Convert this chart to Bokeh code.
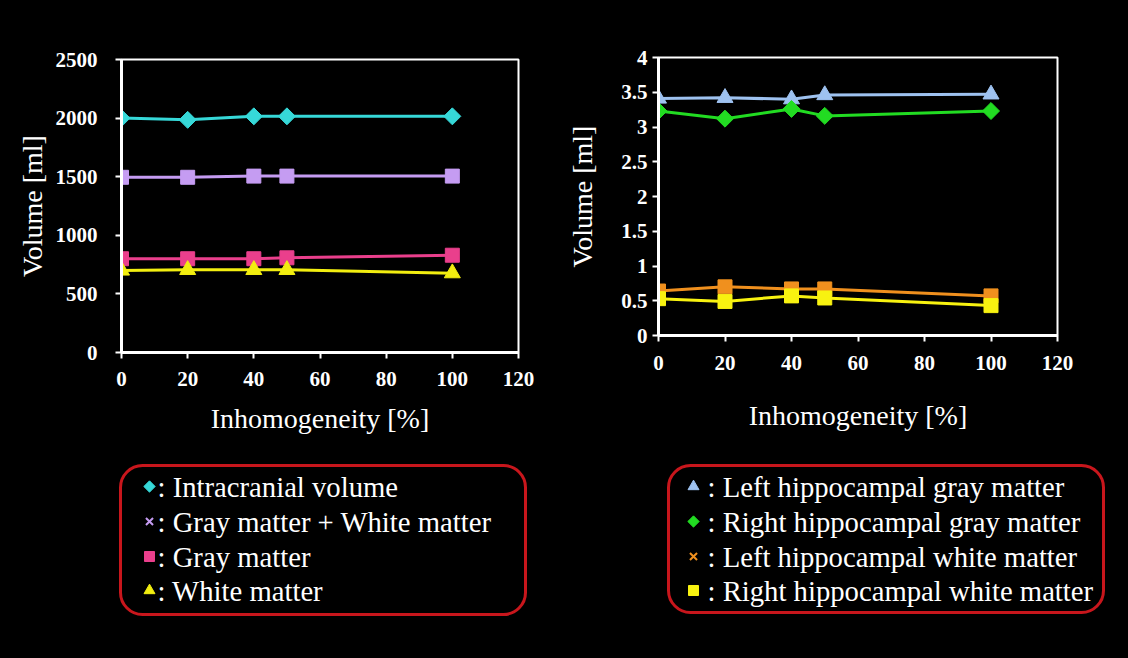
import math
from bokeh.plotting import figure
from bokeh.models import (Range1d, FixedTicker, CustomJSTickFormatter, BoxAnnotation,
                          GlobalInlineStyleSheet)
from bokeh.layouts import row, column
from bokeh.core.properties import value
from bokeh.embed import file_html
from bokeh.resources import INLINE

# ---------------- data ----------------
inhomogeneity = [0, 20, 40, 50, 100]

intracranial_volume = [2000, 1985, 2015, 2015, 2015]
gray_plus_white = [1495, 1495, 1505, 1505, 1505]
gray_matter = [800, 800, 800, 808, 830]
white_matter = [700, 705, 705, 705, 677]

left_hip_gray = [3.41, 3.42, 3.40, 3.46, 3.47]
right_hip_gray = [3.23, 3.12, 3.26, 3.16, 3.23]
left_hip_white = [0.64, 0.70, 0.67, 0.67, 0.57]
right_hip_white = [0.53, 0.49, 0.57, 0.54, 0.43]

left_names = ["Intracranial volume", "Gray matter + White matter", "Gray matter", "White matter"]
right_names = ["Left hippocampal gray matter", "Right hippocampal gray matter",
               "Left hippocampal white matter", "Right hippocampal white matter"]

x_ticks = [0, 20, 40, 60, 80, 100, 120]
left_y_ticks = [0, 500, 1000, 1500, 2000, 2500]
right_y_ticks = [0, 0.5, 1, 1.5, 2, 2.5, 3, 3.5, 4]

x_label = "Inhomogeneity [%]"
y_label = "Volume [ml]"

# ---------------- styles ----------------
SERIF = "Liberation Serif"
left_series = [intracranial_volume, gray_plus_white, gray_matter, white_matter]
left_colors = ["#36D8D8", "#C59CF2", "#EA3F8C", "#F2EE10"]
left_plot_markers = ["diamond", "square", "square", "triangle"]
left_legend_markers = ["diamond", "x", "square", "triangle"]

right_series = [left_hip_gray, right_hip_gray, left_hip_white, right_hip_white]
right_colors = ["#9EC2F0", "#22DC22", "#F0901E", "#F8F210"]
right_plot_markers = ["triangle", "diamond", "square", "square"]
right_legend_markers = ["triangle", "diamond", "x", "square"]

plot_marker_sizes = {"diamond": 12, "square": 14, "triangle": 16}
legend_marker_sizes = {"diamond": 8, "square": 10, "triangle": 11, "x": 10}


def add_marker(p, xs, ys, m, size, c):
    if m == "diamond":
        p.scatter(xs, ys, marker="square", angle=math.pi / 4, size=size,
                  fill_color=c, line_color=c)
    elif m == "x":
        p.scatter(xs, ys, marker="x", size=size, line_color=c, line_width=2)
    else:
        p.scatter(xs, ys, marker=m, size=size, fill_color=c, line_color=c)


def make_chart(width, height, mbl, mbr, mbt, mbb, y_end, y_ticks, series, colors, markers,
               ytick_standoff, xtick_standoff, xlabel_standoff, ylabel_standoff):
    p = figure(width=width, height=height, x_range=Range1d(0, 120), y_range=Range1d(0, y_end),
               output_backend="svg", toolbar_location=None,
               min_border_left=mbl, min_border_right=mbr, min_border_top=mbt, min_border_bottom=mbb)
    p.background_fill_color = "black"
    p.border_fill_color = "black"
    p.outline_line_color = "white"
    p.outline_line_width = 2
    p.grid.visible = False
    p.xaxis.ticker = FixedTicker(ticks=x_ticks)
    p.yaxis.ticker = FixedTicker(ticks=y_ticks)
    p.yaxis.formatter = CustomJSTickFormatter(code="return String(tick);")
    for ax in (p.xaxis, p.yaxis):
        ax.axis_line_color = "white"
        ax.axis_line_width = 3
        ax.major_tick_line_color = "white"
        ax.major_tick_line_width = 2
        ax.major_tick_out = 6
        ax.major_tick_in = 0
        ax.minor_tick_line_color = None
        ax.major_label_text_color = "white"
        ax.major_label_text_font = SERIF
        ax.major_label_text_font_style = "bold"
        ax.major_label_text_font_size = "21px"
        ax.axis_label_text_color = "white"
        ax.axis_label_text_font = SERIF
        ax.axis_label_text_font_style = "normal"
        ax.axis_label_text_font_size = "28px"
    p.xaxis.major_label_standoff = xtick_standoff
    p.yaxis.major_label_standoff = ytick_standoff
    p.xaxis.axis_label = x_label
    p.yaxis.axis_label = y_label
    p.xaxis.axis_label_standoff = xlabel_standoff
    p.yaxis.axis_label_standoff = ylabel_standoff
    for ys, c, m in zip(series, colors, markers):
        p.line(inhomogeneity, ys, line_color=c, line_width=3)
        add_marker(p, inhomogeneity, ys, m, plot_marker_sizes[m], c)
    return p


TOP_H = 452
TOTAL_W = 1128
TOTAL_H = 658
LEFT_W = 545
RIGHT_W = TOTAL_W - LEFT_W

left_chart = make_chart(LEFT_W, TOP_H, 121, LEFT_W - 518, 59, TOP_H - 352, 2500, left_y_ticks,
                        left_series, left_colors, left_plot_markers,
                        ytick_standoff=18, xtick_standoff=13, xlabel_standoff=14, ylabel_standoff=5)
right_chart = make_chart(RIGHT_W, TOP_H, 658 - LEFT_W, TOTAL_W - 1057, 57, TOP_H - 335, 4,
                         right_y_ticks, right_series, right_colors, right_plot_markers,
                         ytick_standoff=5, xtick_standoff=14, xlabel_standoff=27, ylabel_standoff=20)

# ---------------- legends (one strip below both charts) ----------------
BOT_H = TOTAL_H - TOP_H
leg = figure(width=TOTAL_W, height=BOT_H, x_range=Range1d(0, TOTAL_W),
             y_range=Range1d(TOTAL_H, TOP_H), x_axis_type=None, y_axis_type=None,
             output_backend="svg", toolbar_location=None,
             min_border=0, min_border_left=0, min_border_right=0,
             min_border_top=0, min_border_bottom=0)
leg.background_fill_color = "black"
leg.border_fill_color = "black"
leg.outline_line_color = None
leg.grid.visible = False

legend_specs = [
    dict(box=(120, 525, 465, 614), mx=149, tx=157, ys=[486, 521, 556, 590],
         names=left_names, colors=left_colors, markers=left_legend_markers),
    dict(box=(668, 1103, 465, 612), mx=693, tx=707, ys=[486, 521, 556, 590],
         names=right_names, colors=right_colors, markers=right_legend_markers),
]
for spec in legend_specs:
    l, r, t, b = spec["box"]
    leg.add_layout(BoxAnnotation(left=l, right=r, top=t, bottom=b,
                                 fill_color=None, fill_alpha=0,
                                 line_color="#C8161C", line_alpha=1.0, line_width=3,
                                 border_radius=22))
    for yy, c, m in zip(spec["ys"], spec["colors"], spec["markers"]):
        add_marker(leg, [spec["mx"]], [yy], m, legend_marker_sizes[m], c)
    leg.text(x=[spec["tx"]] * len(spec["names"]), y=spec["ys"],
             text=[": " + n for n in spec["names"]],
             text_color="white", text_font=value(SERIF), text_font_size="28.7px",
             text_baseline="middle", text_align="left")

layout = column(row(column(left_chart), column(right_chart)), leg,
                stylesheets=[GlobalInlineStyleSheet(css="body { background-color: black; }")])

open("out.html", "w").write(file_html(layout, INLINE))
